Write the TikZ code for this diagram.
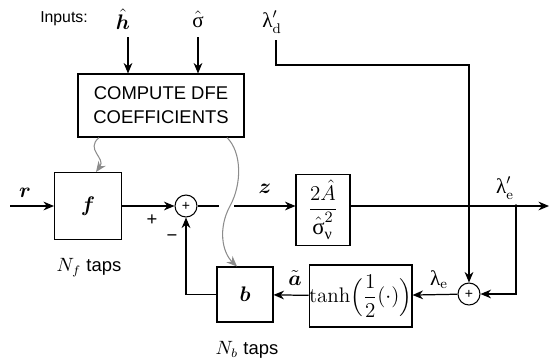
\documentclass[tikz,border=0pt]{standalone}
\usepackage{amsmath}
\usepackage{amssymb}
\usepackage{fontspec}
\setsansfont{Liberation Sans}
\newfontfamily\grkfont{Liberation Serif}
\usepackage{tikz}
\usetikzlibrary{positioning, arrows.meta, calc}
\definecolor{CurveGray}{HTML}{8C8C8C}
\newcommand{\glam}{\text{\grkfont λ}}
\newcommand{\gsig}{\text{\grkfont σ}}
\newcommand{\gnu}{\text{\grkfont ν}}

\begin{document}
\begin{tikzpicture}[
      x=0.02cm, y=-0.02cm,
      blk/.style={draw, line width=0.6pt, inner sep=0pt, font=\fontsize{12}{14}\selectfont},
      summer/.style={circle, draw, line width=0.6pt, minimum size=0.44cm, inner sep=0pt, font=\sffamily\fontsize{8}{8}\selectfont},
      wire/.style={line width=0.7pt},
      sig/.style={wire, -{Stealth[length=6pt,width=5pt]}},
      ctrl/.style={CurveGray, line width=0.6pt, -{Stealth[length=6pt,width=5pt]}},
      lbl/.style={inner sep=1pt, font=\fontsize{12}{14}\selectfont},
      txt/.style={inner sep=1pt, font=\sffamily\fontsize{10.5}{13.6}\selectfont}
  ]
    \useasboundingbox (0,0) rectangle (554,363);
    \node[txt, font=\sffamily\fontsize{9}{11}\selectfont](inp) at (64,19){Inputs:};
    \node[lbl](hh) at (123,19){$\hat{\boldsymbol{h}}$};
    \node[lbl](sh) at (198,19){$\hat{\gsig}$};
    \node[lbl](ld) at (272,22){$\glam'_{\mathrm{d}}$};
    \node[blk, txt, minimum width=3.32cm, minimum height=1.26cm, align=center](coef) at (161,105.5){COMPUTE DFE\\COEFFICIENTS};
    \node[blk, minimum size=1.34cm](f) at (88,206){$\boldsymbol{f}$};
    \node[summer](s1) at (186,206){+};
    \node[blk, font=\fontsize{13}{15}\selectfont, minimum width=1.08cm, minimum height=1.42cm](g) at (323,210){$\dfrac{2\hat{A}}{\hat{\gsig}_{\gnu}^{2}}$};
    \node[summer](s2) at (469,294){+};
    \node[blk, minimum width=1.9cm, minimum height=1.24cm](th) at (360.5,296){$\tanh\!\Big(\dfrac{1}{2}(\cdot)\Big)$};
    \node[blk, minimum width=1.12cm, minimum height=1.1cm](b) at (245,294.5){$\boldsymbol{b}$};
    % labels
    \node[lbl](rl) at (25,193){$\boldsymbol{r}$};
    \node[lbl](zl) at (265,189){$\boldsymbol{z}$};
    \node[lbl](lel) at (505,188){$\glam'_{\mathrm{e}}$};
    \node[lbl](lal) at (439,280){$\glam_{\mathrm{e}}$};
    \node[lbl](al) at (295,278){$\tilde{\boldsymbol{a}}$};
    \node[txt](plus) at (152,220){+};
    \node[txt](minus) at (172,238){−};
    \node[txt](nf) at (89,268){$N_f$ taps};
    \node[txt](nb) at (247,350){$N_b$ taps};
    % free ends
    \coordinate(ht) at (128,37);
    \coordinate(st) at (198,37);
    \coordinate(ldt) at (276,40);
    \coordinate(ldc) at (276,65);
    \coordinate(rin) at (10,206);
    \coordinate(gl) at (219,206);
    \coordinate(gr) at (234,206);
    \coordinate(tap) at (516,206);
    \coordinate(out) at (549,206);
    % signal paths
    \draw[sig](ht)--(ht |- coef.north);
    \draw[sig](st)--(st |- coef.north);
    \draw[sig](rin)--(f);
    \draw[sig](f)--(s1);
    \draw[wire](s1)--(gl);
    \draw[sig](gr)--(g.west |- gr);
    \draw[wire](g.east |- tap)--(tap);
    \draw[sig](tap)--(out);
    \fill(tap) circle (1.1pt);
    \draw[sig](ldt)--(ldc)-|(s2.north);
    \draw[sig](tap)|-(s2.east);
    \draw[sig](s2)--(th);
    \draw[sig](th)--(b);
    \draw[sig](b.west)-|(s1.south);
    % coefficient updates
    \draw[ctrl]([xshift=-1.24cm]coef.south) .. controls +(-14,12) and +(10,-14) .. ([xshift=0.16cm]f.north);
    \draw[ctrl]([xshift=1.32cm]coef.south) .. controls +(15,15) and +(12,-22) .. (230,206)
      .. controls (218,228) and (222,252) .. ([xshift=-0.16cm]b.north);
  \end{tikzpicture}
\end{document}
